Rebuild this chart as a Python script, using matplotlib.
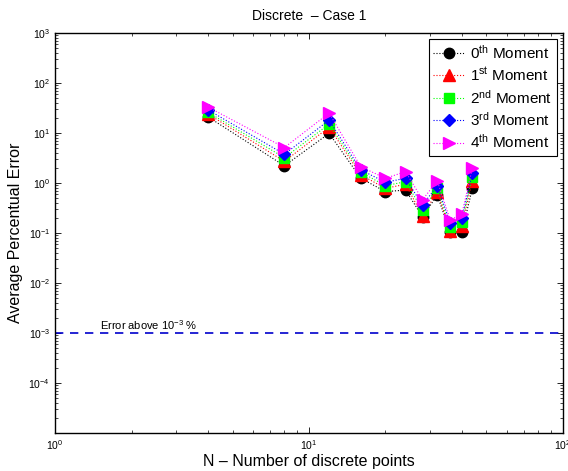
import numpy as np
import matplotlib
matplotlib.use('Agg')
from matplotlib import pyplot as plt
from matplotlib.ticker import LogLocator, NullFormatter

plt.rcParams['font.family'] = ['Liberation Sans', 'DejaVu Sans']
plt.rcParams['mathtext.fontset'] = 'custom'
plt.rcParams['mathtext.rm'] = 'Liberation Sans'
plt.rcParams['mathtext.it'] = 'Liberation Sans'
plt.rcParams['mathtext.default'] = 'regular'

####

n_points = [4, 8, 12, 16, 20, 24, 28, 32, 36, 40, 44]

err_m0 = [21, 2.2, 9.8, 1.24, 0.67, 0.72, 0.21, 0.57, 0.103, 0.103, 0.78]
err_m1 = [24, 2.7, 13, 1.45, 0.78, 0.94, 0.22, 0.67, 0.11, 0.138, 1.1]
err_m2 = [26, 3.2, 15, 1.64, 0.88, 1.06, 0.29, 0.78, 0.13, 0.168, 1.34]
err_m3 = [29, 3.75, 18, 1.82, 1.03, 1.24, 0.36, 0.88, 0.156, 0.196, 1.56]
err_m4 = [33, 5.1, 25, 2.1, 1.24, 1.68, 0.46, 1.1, 0.18, 0.24, 1.97]

labels = [r'0$^{th}$ Moment', r'1$^{st}$ Moment', r'2$^{nd}$ Moment',
          r'3$^{rd}$ Moment', r'4$^{th}$ Moment']

threshold = 1e-3

####

fig = plt.figure(figsize=(5.68, 4.71), dpi=100)
ax = fig.add_axes([0.097, 0.081, 0.894, 0.849])

series = [err_m0, err_m1, err_m2, err_m3, err_m4]
styles = [('k', 'o', 7.5), ('#ff0000', '^', 8), ('#00ff00', 's', 6.5),
          ('#0000ff', 'D', 6.5), ('#ff00ff', '>', 9)]

for vals, (c, m, ms), lab in zip(series, styles, labels):
  ax.plot(n_points, vals, linestyle=':', linewidth=0.8, color=c,
          marker=m, markersize=ms, markerfacecolor=c, markeredgecolor=c,
          label=lab)

ax.axhline(threshold, color='#0000cc', linestyle='--', linewidth=1.2,
           dashes=(5, 4))
ax.text(1.5, threshold * 1.15, r'Error above 10$^{-3}$ %', fontsize=8)

ax.set_xscale('log')
ax.set_yscale('log')
ax.set_xlim(1, 100)
ax.set_ylim(1e-5, 1e3)

ax.xaxis.set_major_locator(LogLocator(base=10, numticks=20))
ax.set_yticks([1e-4, 1e-3, 1e-2, 1e-1, 1e0, 1e1, 1e2, 1e3])
ax.xaxis.set_minor_locator(LogLocator(base=10, subs=np.arange(2, 10), numticks=100))
ax.yaxis.set_minor_locator(LogLocator(base=10, subs=np.arange(2, 10), numticks=100))
ax.xaxis.set_minor_formatter(NullFormatter())
ax.yaxis.set_minor_formatter(NullFormatter())

ax.tick_params(which='both', direction='in', top=True, right=True, labelsize=7.5)
ax.tick_params(which='major', length=4, width=0.6)
ax.tick_params(which='minor', length=2, width=0.5)
for s in ax.spines.values():
  s.set_linewidth(1.0)

ax.set_title('Discrete  \u2013 Case 1', fontsize=10, pad=9)
ax.set_xlabel('N \u2013 Number of discrete points', fontsize=11.5, labelpad=2)
ax.set_ylabel('Average Percentual Error', fontsize=11.5, labelpad=4)

leg = ax.legend(loc='upper right', fontsize=11, fancybox=False, framealpha=1,
                edgecolor='k', borderpad=0.3, labelspacing=0.3,
                handlelength=2.0, handletextpad=0.4, borderaxespad=0.4)
leg.get_frame().set_linewidth(0.8)

fig.savefig('out.png', dpi=100)
